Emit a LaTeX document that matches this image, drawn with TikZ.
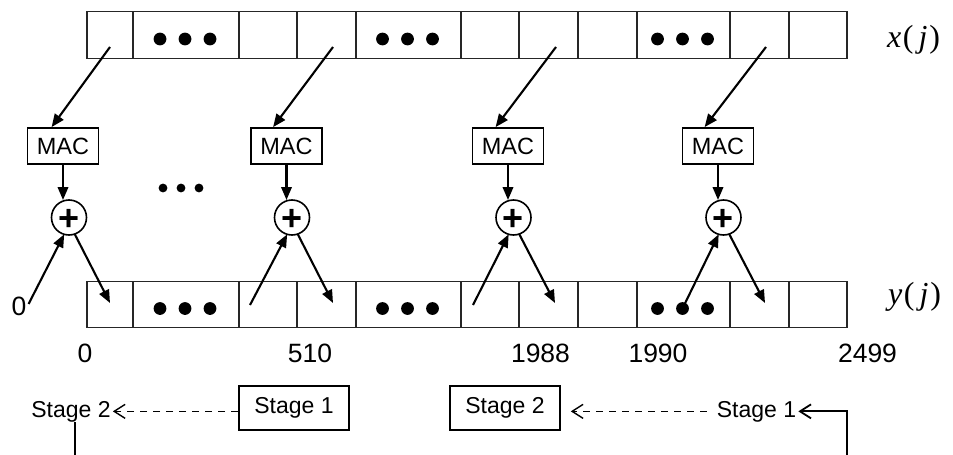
\documentclass[tikz,border=0pt]{standalone}
\usepackage{fontspec}
\setmainfont{Liberation Sans}
\newfontfamily\eqfont{Liberation Serif}
\usetikzlibrary{arrows.meta,calc}

\begin{document}
\begin{tikzpicture}[x=1pt,y=-1pt,
  cell/.style={draw=black!85, line width=1.4pt, inner sep=0pt, outer sep=0pt, minimum height=46.5pt},
  macbox/.style={draw, line width=1.8pt, minimum width=71pt, minimum height=36pt, inner sep=0pt,
                 font=\fontsize{23.5}{25}\selectfont},
  adder/.style={draw, circle, line width=1.6pt, minimum size=35pt, inner sep=0pt, outer sep=0pt},
  arr/.style={line width=2.1pt, -{Triangle[length=13pt,width=10.5pt]}},
  idx/.style={inner sep=0pt, font=\fontsize{26.5}{28}\selectfont},
  stagebox/.style={draw, line width=1.6pt, minimum width=110pt, minimum height=44pt, inner sep=0pt,
                   font=\fontsize{23}{25}\selectfont},
  stagetext/.style={inner sep=0pt, font=\fontsize{23}{25}\selectfont},
  dasharr/.style={line width=1.4pt, dash pattern=on 7pt off 6pt, -{Straight Barb[length=11pt,width=14pt]}},
  openarr/.style={line width=1.8pt, -{Straight Barb[length=11pt,width=14pt]}},
  seqlabel/.style={inner sep=0pt, font=\eqfont\fontsize{32}{34}\selectfont}
]
\useasboundingbox (0,0) rectangle (953,455);

% the two arrays x(j) and y(j)
\foreach \n/\a/\b in {1/87/133, 2/133/239, 3/239/297, 4/297/356, 5/356/461, 6/461/519,
                      7/519/578, 8/578/637, 9/637/730, 10/730/789, 11/789/847} {
  \node[cell, minimum width={(\b-\a)*1pt}] (t\n) at ({(\a+\b)/2},35) {};
  \node[cell, minimum width={(\b-\a)*1pt}] (b\n) at ({(\a+\b)/2},304.5) {};
}

% ellipsis cells
\foreach \c in {2,5,9} {
  \foreach \dx in {-26,-1,24} {
    \fill ($(t\c.center)+(\dx,4)$) circle (6.4pt);
    \fill ($(b\c.center)+(\dx,4)$) circle (6.4pt);
  }
}

\node[seqlabel, anchor=base west] (xl) at (887,47)
  {\itshape x\kern1.5pt\upshape(\kern5pt\itshape j\kern2pt\upshape)};
\node[seqlabel, anchor=base west] (yl) at (888,304)
  {\itshape y\kern1.5pt\upshape(\kern5pt\itshape j\kern2pt\upshape)};

% multiply-accumulate units and adders
\node[macbox] (m1) at (63,146) {MAC};
\node[macbox] (m2) at (286.5,146) {MAC};
\node[macbox] (m3) at (508,146) {MAC};
\node[macbox] (m4) at (718,146) {MAC};

\foreach \i/\x in {1/69, 2/292, 3/513.5, 4/723.5} {
  \node[adder] (c\i) at (\x,217.5) {};
  \node[inner sep=0pt, font=\bfseries\fontsize{36}{36}\selectfont] (p\i) at (\x,220) {+};
}

% dots between the first two units
\foreach \x in {163,181,199} \fill (\x,188) circle (4.4pt);

% x(j) -> MAC
\draw[arr] ($(t1.center)+(0,12)$)   -- ($(m1.north west)+(25,0)$);
\draw[arr] ($(t4.center)+(6.5,12)$) -- ($(m2.north west)+(23,0)$);
\draw[arr] ($(t7.center)+(7.5,12)$) -- ($(m3.north west)+(24,0)$);
\draw[arr] ($(t10.center)+(6.5,12)$) -- ($(m4.north west)+(23,0)$);

% MAC -> adder
\foreach \i in {1,2,3,4} \draw[arr] (m\i.south) -- (m\i.south |- c\i.north);

% initial value
\node[idx] (zl) at (19,306) {0};

% partial sums in, results out
\draw[arr] ($(zl.east)+(2,-2)$)      -- (c1.254);
\draw[arr] ($(b3.west)+(11,0.5)$)    -- (c2.254);
\draw[arr] ($(b6.west)+(12,0.5)$)    -- (c3.254);
\draw[arr] ($(b9.center)+(-1,4)$)    -- (c4.254);

\draw[arr] (c1.289) -- ($(b1.center)+(0,-1.5)$);
\draw[arr] (c2.289) -- ($(b4.center)+(6.5,-1.5)$);
\draw[arr] (c3.289) -- ($(b7.center)+(6.5,-1.5)$);
\draw[arr] (c4.289) -- ($(b10.center)+(5.5,-1.5)$);

% indices
\node[idx, anchor=base] (i0)    at (85,362)    {0};
\node[idx, anchor=base] (i510)  at (310,362)   {510};
\node[idx, anchor=base] (i1988) at (540.5,362) {1988};
\node[idx, anchor=base] (i1990) at (658,362)   {1990};
\node[idx, anchor=base] (i2499) at (867.5,362) {2499};

% stages
\node[stagebox] (s1) at (294,408) {Stage 1};
\node[stagebox] (s2) at (505,408) {Stage 2};
\node[stagetext, anchor=base] (l2) at (71,417) {Stage 2};
\node[stagetext, anchor=base] (r1) at (756.5,417) {Stage 1};

\draw[dasharr] (s1.west |- l2.east) -- ($(l2.east)+(2,0)$);
\draw[dasharr] ($(r1.west)+(-10,0)$) -- ($(s2.east |- r1.west)+(10,0)$);

\coordinate (lb) at (75,455);
\coordinate (rb) at (847,455);
\draw[line width=1.8pt] (lb) -- (lb |- l2.south);
\draw[openarr] (rb) |- ($(r1.east)+(2,0)$);
\end{tikzpicture}
\end{document}
